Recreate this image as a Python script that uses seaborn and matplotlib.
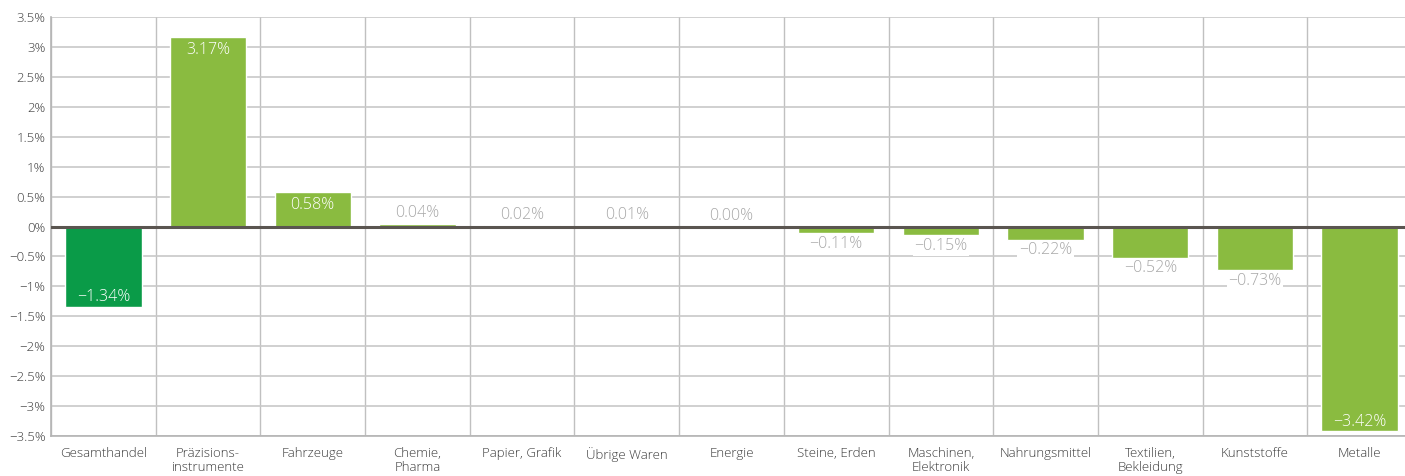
import matplotlib
matplotlib.use("Agg")
import matplotlib.pyplot as plt
import seaborn as sns
import numpy as np

categories = ["Gesamthandel", "Präzisions-\ninstrumente", "Fahrzeuge", "Chemie,\nPharma",
              "Papier, Grafik", "Übrige Waren", "Energie", "Steine, Erden",
              "Maschinen,\nElektronik", "Nahrungsmittel", "Textilien,\nBekleidung",
              "Kunststoffe", "Metalle"]
values = [-1.34, 3.17, 0.58, 0.04, 0.02, 0.01, 0.00, -0.11, -0.15, -0.22, -0.52, -0.73, -3.42]
y_ticks = [-3.5, -3, -2.5, -2, -1.5, -1, -0.5, 0, 0.5, 1, 1.5, 2, 2.5, 3, 3.5]

DARK = "#0A9B48"
LIGHT = "#8ABB40"
colors = [DARK] + [LIGHT] * (len(categories) - 1)

sns.set_theme(style="white")
plt.rcParams['font.family'] = ['Open Sans', 'DejaVu Sans']

fig = plt.figure(figsize=(14.05, 4.76), dpi=100)
ax = fig.add_axes([51/1405, 1 - 436/476, (1412 - 51)/1405, (436 - 17)/476])

sns.barplot(x=categories, y=values, hue=categories, palette=colors, legend=False,
            width=0.73, ax=ax, saturation=1, zorder=3)

ax.set_ylim(-3.5, 3.5)
ax.set_xlim(-0.5, len(categories) - 0.5)
ax.set_yticks(y_ticks)

def fmt(v):
    s = f"{abs(v):g}%"
    return ("\u2212" + s) if v < 0 else s

ax.set_yticklabels([fmt(v) for v in y_ticks], fontsize=9.5, color="#3c3c3c", fontweight="light")
ax.set_xticks(range(len(categories)))
ax.set_xticklabels(categories, fontsize=9.5, color="#3c3c3c", linespacing=1.05, va="top",
                   fontweight="light")
ax.set_xticks(np.arange(len(categories) + 1) - 0.5, minor=True)
ax.tick_params(axis="both", which="both", length=0)
ax.tick_params(axis="x", which="major", pad=8)
ax.tick_params(axis="y", pad=4)

ax.grid(axis="y", which="major", color="#c8c8c8", linewidth=1.2, zorder=0)
ax.grid(axis="x", which="minor", color="#c0c0c0", linewidth=1.0, zorder=0)
ax.grid(axis="x", which="major", visible=False)
ax.set_axisbelow(True)
ax.axhline(0, color="#5a5550", linewidth=2.2, zorder=4)

for sp in ["top", "right"]:
    ax.spines[sp].set_visible(False)
for sp in ["left", "bottom"]:
    ax.spines[sp].set_color("#b4b4b4")
    ax.spines[sp].set_linewidth(1.2)

kw = dict(textcoords="offset points", ha="center", fontsize=11.5, zorder=6, fontweight="light")
for i, v in enumerate(values):
    lab = ("\u2212" if v < 0 else "") + f"{abs(v):.2f}%"
    if v >= 0.5:
        ax.annotate(lab, (i, v), xytext=(0, -4), va="top", color="white", **kw)
    elif v >= 0:
        ax.annotate(lab, (i, v), xytext=(0, 2), va="bottom", color="#a8a8a8", **kw)
    elif v > -1:
        ax.annotate(lab, (i, v), xytext=(0, -2), va="top", color="#a8a8a8",
                    bbox=dict(boxstyle="square,pad=0.1", fc="white", ec="none"), **kw)
    else:
        ax.annotate(lab, (i, v), xytext=(0, 1), va="bottom", color="white", **kw)

ax.set_xlabel("")
ax.set_ylabel("")
fig.savefig("out.png", dpi=100)
